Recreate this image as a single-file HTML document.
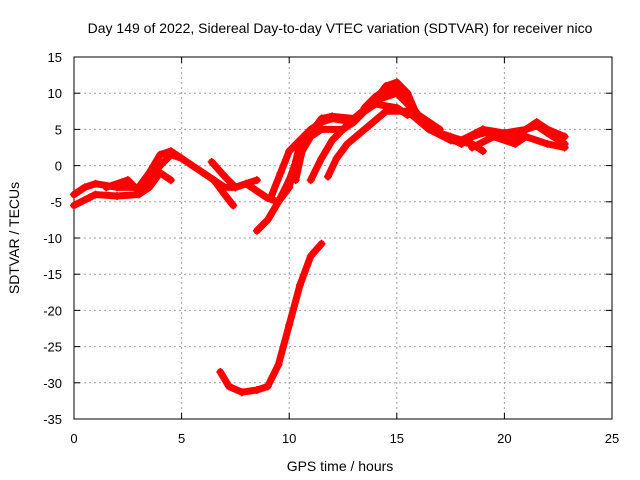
<!DOCTYPE html>
<html><head><meta charset="utf-8"><style>
body{margin:0;background:#fff}
svg{display:block;font-family:"Liberation Sans",sans-serif}
</style></head><body>
<svg id="c" width="640" height="480"></svg>
<script>
const xTicks=[0,5,10,15,20,25];
const yTicks=[15,10,5,0,-5,-10,-15,-20,-25,-30,-35];
const seriesA_x=[0,0.5,1,2,3,3.5,4,4.5,5,5.5,6,6.5,7,7.5,8,8.5,9,9.5,10,10.5,11,11.5,12,13,14,14.5,15,15.5,16,17,18,19,20,21,21.5,22,22.8];
const seriesA_y=[-4,-3,-2.5,-3,-3,-1,1.5,2,1,0,-1,-2,-3,-3,-2.5,-3.5,-4.5,-5,-3,3,4.5,6.5,6.8,6.5,9,11,11.5,10,6.5,4.5,3.5,4.5,4.5,5,5.5,4.5,3];
const seriesB_x=[0,1,2,3,3.5,4,4.5];
const seriesB_y=[-5.5,-4,-4.2,-4,-3,-1,-2];
const seriesC_x=[1.5,2.5,3,3.5,4,4.5,5];
const seriesC_y=[-3,-2,-3.5,-2,0,1.5,1];
const seriesD_x=[6.4,7,7.5,8,8.5];
const seriesD_y=[0.5,-1.5,-3,-2.5,-2];
const seriesE_x=[6.5,7,7.4];
const seriesE_y=[-2,-4,-5.5];
const seriesF_x=[8.5,9,9.5,10,10.5,11,11.5,12,13];
const seriesF_y=[-9,-7.5,-5,-2,2,4.5,6,6.5,6];
const seriesG_x=[9.2,9.6,10,10.5,11,11.5];
const seriesG_y=[-4,-1,2,3.5,5,6];
const seriesH_x=[10.3,10.6,11,11.5,12.5,13,14,15,16,17,18];
const seriesH_y=[-2,2,4,5,5,6,9,10,7,4.5,3];
const seriesI_x=[11,11.5,12,12.5,13,14,15,15.5];
const seriesI_y=[-2,1,3.5,5,6.5,8.5,8,7];
const seriesJ_x=[11.8,12.2,12.7,13.5,14.5,15.5,16.5,17.5,18.5,19];
const seriesJ_y=[-1.5,1,3,5,7.5,7.5,5,3.5,3,2];
const seriesK_x=[17.5,18,19,20,20.5,21,21.5,22,22.8];
const seriesK_y=[4,3.5,5,4.5,4,5,6,5,4];
const seriesL_x=[18.5,19.5,20.5,21,22,22.8];
const seriesL_y=[2.5,4,3,4,3,2.5];
const seriesM_x=[6.8,7.2,7.8,8.5,9,9.5,10,10.5,11,11.5];
const seriesM_y=[-28.5,-30.5,-31.3,-31,-30.5,-27.5,-22,-16.5,-12.5,-10.8];
const seriesN_x=[13.5,14,14.5,15,15.5,16,16.5,17];
const seriesN_y=[8,9.5,10.5,10.8,9,7,6,5];
const series=[[seriesA_x,seriesA_y],[seriesB_x,seriesB_y],[seriesC_x,seriesC_y],[seriesD_x,seriesD_y],[seriesE_x,seriesE_y],[seriesF_x,seriesF_y],[seriesG_x,seriesG_y],[seriesH_x,seriesH_y],[seriesI_x,seriesI_y],[seriesJ_x,seriesJ_y],[seriesK_x,seriesK_y],[seriesL_x,seriesL_y],[seriesM_x,seriesM_y],[seriesN_x,seriesN_y]];

const L=74,R=612,T=57,B=419;
const sx=v=>L+(v-0)/25*(R-L);
const sy=v=>T+(15-v)/50*(B-T);
const svg=document.getElementById('c');
const NS='http://www.w3.org/2000/svg';
function mk(tag,attrs,text){const e=document.createElementNS(NS,tag);for(const k in attrs)e.setAttribute(k,attrs[k]);if(text!==undefined)e.textContent=text;svg.appendChild(e);return e;}

xTicks.forEach(v=>{
  if(v>0&&v<25){const g=mk('line',{x1:sx(v),x2:sx(v),y1:T,y2:B,stroke:'#a0a0a0','stroke-dasharray':'2,3'});
  
  }
  const t=mk('text',{x:sx(v),y:B+24,'text-anchor':'middle','font-size':'13',fill:'#000'},String(v));
  
  
  mk('line',{x1:sx(v),x2:sx(v),y1:B,y2:B-6,stroke:'#000'});
  mk('line',{x1:sx(v),x2:sx(v),y1:T,y2:T+6,stroke:'#000'});
});
yTicks.forEach(v=>{
  if(v<15&&v>-35){const g=mk('line',{x1:L,x2:R,y1:sy(v),y2:sy(v),stroke:'#a0a0a0','stroke-dasharray':'2,3'});
  
  }
  const t=mk('text',{x:L-12,y:sy(v)+5,'text-anchor':'end','font-size':'13',fill:'#000'},String(v));
  
  
  mk('line',{x1:L,x2:L+6,y1:sy(v),y2:sy(v),stroke:'#000'});
  mk('line',{x1:R,x2:R-6,y1:sy(v),y2:sy(v),stroke:'#000'});
});
const frame=mk('rect',{x:L,y:T,width:R-L,height:B-T,fill:'none',stroke:'#000'});



series.forEach((s,i)=>{
  const pts=s[0].map((x,j)=>sx(x)+','+sy(s[1][j])).join(' ');
  const p=mk('polyline',{points:pts,fill:'none',stroke:'#ff0000','stroke-width':'7','stroke-linejoin':'round','stroke-linecap':'round'});
  
  
  s[0].forEach((x,j)=>{
    const px=sx(x),py=sy(s[1][j]);
    const m=mk('path',{d:`M${px-4},${py}H${px+4}M${px},${py-4}V${py+4}`,stroke:'#ff0000','stroke-width':'1.5'});
    
    
  });
});

const title=mk('text',{x:340,y:33,'text-anchor':'middle','font-size':'14',fill:'#000'},'Day 149 of 2022, Sidereal Day-to-day VTEC variation (SDTVAR) for receiver nico');


const xt=mk('text',{x:340,y:471,'text-anchor':'middle','font-size':'14',fill:'#000'},'GPS time / hours');


const yt=mk('text',{x:0,y:0,transform:'translate(19,238) rotate(-90)','text-anchor':'middle','font-size':'14',fill:'#000'},'SDTVAR / TECUs');


</script>
</body></html>
